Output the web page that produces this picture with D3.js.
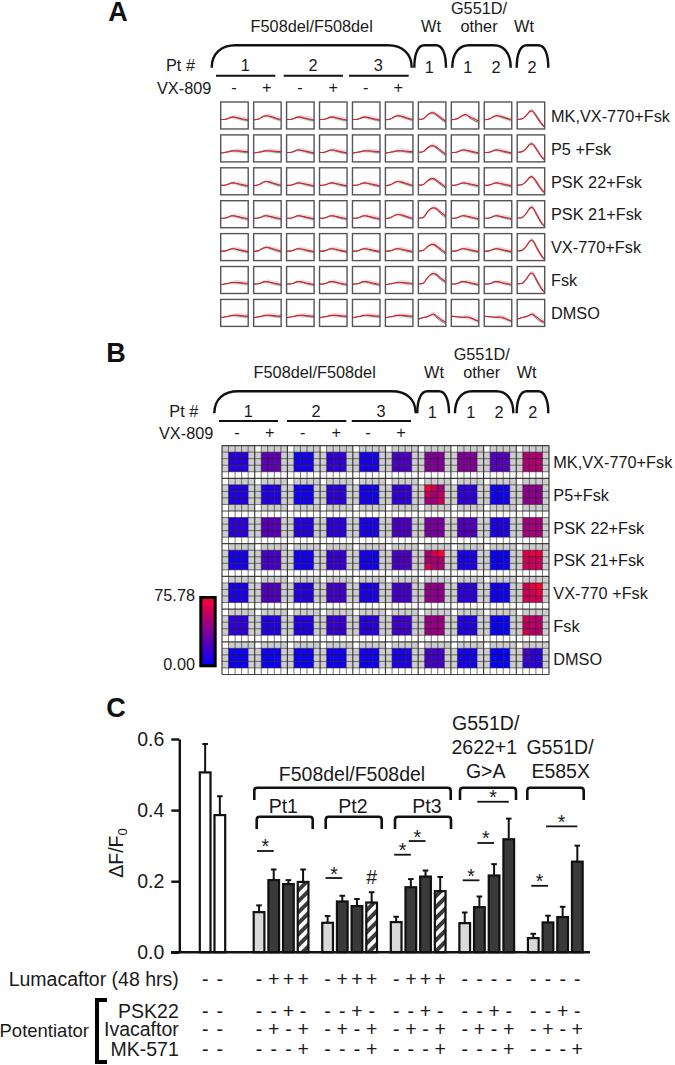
<!DOCTYPE html>
<meta charset="utf-8">
<style>
body { margin: 0; background: #fff; }
text { font-family: "Liberation Sans", Arial, sans-serif; fill: #1a1a1a; }
.big text, text.big { font-size: 19.5px; }
.lab { font-size: 16.3px; }
svg text.panel { font-size: 27px; font-weight: bold; fill: #111; }
</style>
<svg id="fig" width="675" height="1065"></svg>
<script src="https://d3js.org/d3.v7.min.js"></script>
<script>
// panel A + B shared
const columns = ["1-", "1+", "2-", "2+", "3-", "3+", "Wt1", "G1", "G2", "Wt2"];
const rowsA = ["MK,VX-770+Fsk", "P5 +Fsk", "PSK 22+Fsk", "PSK 21+Fsk", "VX-770+Fsk", "Fsk", "DMSO"];
const rowsB = ["MK,VX-770+Fsk", "P5+Fsk", "PSK 22+Fsk", "PSK 21+Fsk", "VX-770 +Fsk", "Fsk", "DMSO"];

// traces, fraction of box height
const traceRed = [
  [.33, .34, .36, .37, .40, .41, .41, .41, .40, .39, .38, .38],
  [.35, .35, .36, .39, .43, .44, .43, .41, .39, .37, .35, .33],
  [.34, .35, .37, .42, .47, .49, .48, .46, .43, .40, .37, .35],
  [.36, .36, .38, .46, .54, .59, .60, .56, .49, .42, .35, .28],
  [.36, .36, .38, .46, .58, .72, .76, .64, .46, .30, .15, .05],
  [.27, .30, .33, .35, .38, .42, .46, .40, .33, .26, .20, .16],
  [.37, .37, .36, .35, .34, .34, .35, .34, .31, .27, .23, .20],
  [.36, .36, .38, .44, .54, .65, .67, .58, .44, .30, .17, .08],
  [.36, .36, .38, .50, .62, .70, .74, .72, .65, .57, .50, .44],
  [.35, .35, .37, .41, .47, .52, .53, .47, .42, .38, .33, .30]
];
const traceDark = [
  [.33, .34, .36, .37, .40, .40, .40, .39, .37, .36, .35, .35],
  [.35, .35, .36, .39, .43, .44, .42, .39, .36, .34, .32, .30],
  [.34, .35, .37, .42, .47, .49, .47, .43, .40, .37, .34, .32],
  [.36, .36, .38, .46, .54, .59, .58, .52, .44, .37, .30, .24],
  [.36, .36, .38, .46, .58, .71, .74, .60, .42, .26, .12, .03],
  [.27, .30, .33, .35, .38, .42, .44, .36, .27, .20, .15, .11],
  [.37, .37, .36, .35, .34, .34, .34, .32, .29, .25, .21, .18],
  [.36, .36, .38, .44, .54, .64, .66, .55, .40, .26, .14, .06],
  [.36, .36, .38, .50, .62, .70, .73, .69, .60, .51, .44, .38],
  [.35, .35, .37, .41, .47, .52, .53, .44, .37, .32, .27, .24]
];
const traceSpread = [0, .01, .02, .03, .05, .07, .09, .09, .09, .09, .09, .09];
const traceIndex = [
  [1, 2, 1, 1, 1, 2, 3, 9, 2, 7],
  [0, 0, 1, 1, 0, 0, 3, 1, 1, 7],
  [1, 2, 1, 1, 1, 2, 3, 1, 1, 7],
  [1, 1, 1, 1, 1, 2, 8, 1, 1, 4],
  [1, 2, 1, 1, 1, 1, 3, 1, 1, 4],
  [0, 1, 1, 1, 1, 0, 8, 1, 1, 4],
  [0, 0, 0, 0, 0, 0, 5, 6, 6, 5]
];

// panel B heat values per well, 0 - 75.78
const heatValues = [
  [12, 28, 6, 15, 7, 22, 38, 38, 25, 52],
  [10, 10, 5, 13, 6, 15, 48, 14, 5, 42],
  [13, 26, 11, 13, 8, 22, 36, 24, 9, 48],
  [7, 21, 5, 16, 6, 22, 50, 8, 4, 60],
  [8, 24, 11, 20, 9, 20, 42, 13, 5, 62],
  [14, 10, 10, 16, 12, 18, 45, 10, 3, 55],
  [4, 4, 4, 5, 5, 8, 20, 6, 2, 13]
];
// wells with single hot spots: row, col, cell row, cell col, value
const heatSpots = [
  [1, 6, 0, 0, 72], [1, 6, 0, 1, 60], [1, 6, 1, 0, 58], [1, 6, 1, 2, 58], [1, 6, 2, 2, 62],
  [3, 6, 0, 1, 64], [3, 6, 0, 2, 74], [3, 6, 2, 0, 62],
  [3, 9, 0, 0, 66], [3, 9, 0, 1, 68], [3, 9, 0, 2, 68], [3, 9, 1, 0, 64],
  [4, 9, 0, 1, 70], [4, 9, 0, 2, 75], [4, 9, 1, 2, 70],
  [5, 9, 2, 0, 64], [5, 9, 0, 0, 62], [6, 9, 0, 0, 22], [6, 9, 1, 0, 20]
];
// 1 where the white band directly follows the well in that row
const whiteFirst = [1, 0, 1, 1, 1, 1, 1];

// panel C
const groups = ["ctrl", "Pt1", "Pt2", "Pt3", "G551D/2622+1", "G551D/E585X"];
const barMeans = [
  [.506, .386],
  [.113, .203, .192, .198],
  [.083, .143, .130, .140],
  [.085, .183, .213, .172],
  [.082, .127, .216, .318],
  [.040, .084, .099, .255]
];
const barTops = [
  [.586, .439],
  [.132, .233, .203, .233],
  [.102, .159, .150, .169],
  [.100, .206, .230, .212],
  [.112, .157, .248, .376],
  [.052, .103, .128, .300]
];
const barKinds = [
  ["open", "open"],
  ["light", "dark", "dark", "hatch"],
  ["light", "dark", "dark", "hatch"],
  ["light", "dark", "dark", "hatch"],
  ["light", "dark", "dark", "dark"],
  ["light", "dark", "dark", "dark"]
];
// group, first bar, last bar, height
const sigBars = [
  [1, 0, 1, .285], [2, 0, 1, .209], [3, 0, 1, .2745], [3, 1, 2, .313],
  [4, 0, 1, .2025], [4, 1, 2, .3075], [4, 1, 3, .4235],
  [5, 0, 1, .187], [5, 1, 3, .354]
];
const signRows = [
  ["Lumacaftor (48 hrs)", ["--", "-+++", "-+++", "-+++", "----", "----"]],
  ["PSK22", ["--", "--+-", "--+-", "--+-", "--+-", "--+-"]],
  ["Ivacaftor", ["--", "-+-+", "-+-+", "-+-+", "-+-+", "-+-+"]],
  ["MK-571", ["--", "---+", "---+", "---+", "---+", "---+"]]
];

const svg = d3.select("#fig");
const defs = svg.append("defs");

function label(g, x, y, s, cls, anchor) {
  return g.append("text").attr("x", x).attr("y", y).attr("class", cls || "lab")
    .attr("text-anchor", anchor || "middle").text(s);
}

function brace(g, x0, x1, yt, yb, r) {
  const p = d3.path();
  p.moveTo(x0, yb);
  p.bezierCurveTo(x0, yt + (yb - yt) * .35, x0 + r * .4, yt, x0 + r, yt);
  p.lineTo(x1 - r, yt);
  p.bezierCurveTo(x1 - r * .4, yt, x1, yt + (yb - yt) * .35, x1, yb);
  g.append("path").attr("d", p.toString()).attr("fill", "none").attr("stroke", "#111").attr("stroke-width", 2.4);
}

// the header is the same in A and B apart from where things sit
function header(g, o) {
  label(g, o.titleX, o.y1, "F508del/F508del");
  label(g, o.wt1X, o.y1, "Wt");
  label(g, o.gX, o.y1 - 18.3, "G551D/");
  label(g, o.gX, o.y1, "other");
  label(g, o.wt2X, o.y1, "Wt");
  o.braces.forEach(b => brace(g, b[0], b[1], o.yTop, o.yBot, b[2]));
  label(g, o.ptX, o.y2, "Pt #", "lab", "start");
  o.pts.forEach((p, i) => {
    label(g, p[0], o.y2, String(i + 1));
    g.append("line").attr("x1", p[1]).attr("x2", p[2]).attr("y1", o.yLine).attr("y2", o.yLine)
      .attr("stroke", "#111").attr("stroke-width", 2);
  });
  o.subs.forEach(s => label(g, s[0], o.y2 + 1.7, s[1]));
  label(g, o.vxX, o.y3, "VX-809", "lab", "end");
  o.signs.forEach((x, i) => label(g, x, o.y3 - 1, i % 2 ? "+" : "-"));
}

// ---- A
const gA = svg.append("g");
label(gA, 118, 21, "A", "panel");
header(gA, {
  titleX: 311.7, wt1X: 431, gX: 479, wt2X: 524, y1: 32.3, ptX: 166, y2: 71, yTop: 45.3, yBot: 67.7, yLine: 75.7,
  braces: [[211.7, 411.7, 24], [414.3, 446, 10], [452.3, 510.7, 17], [516.7, 548.3, 10]],
  pts: [[245.3, 216, 275.3], [313, 283.7, 343], [378.3, 349, 408.7]],
  subs: [[429.3, "1"], [467.7, "1"], [496, "2"], [532, "2"]],
  vxX: 211.3, y3: 93.7, signs: [234, 266.7, 300, 333.3, 365.7, 398.3]
});

const xA = d3.scaleBand().domain(columns).range([220.7, 544.7]).paddingInner(.165).paddingOuter(0);
const yA = d3.scaleBand().domain(rowsA).range([102, 326.4]).paddingInner(.18).paddingOuter(0);
const tx = d3.scaleLinear().domain([0, 11]).range([0, xA.bandwidth()]);
const ty = d3.scaleLinear().domain([0, 1]).range([yA.bandwidth(), 0]);
const curve = d3.curveCatmullRom;
const tLine = d3.line().x((d, i) => tx(i)).y(d => ty(d)).curve(curve);
const tArea = d3.area().x((d, i) => tx(i))
  .y0((d, i) => ty(d - traceSpread[i])).y1((d, i) => ty(d + traceSpread[i])).curve(curve);

rowsA.forEach((row, r) => {
  columns.forEach((col, c) => {
    const k = traceIndex[r][c];
    const g = gA.append("g").attr("transform", `translate(${xA(col)},${yA(row)})`);
    g.append("rect").attr("width", xA.bandwidth()).attr("height", yA.bandwidth())
      .attr("fill", "#fff");
    g.append("path").attr("d", tArea(traceRed[k])).attr("fill", "#e6dfe0");
    g.append("path").attr("d", tLine(traceDark[k])).attr("fill", "none").attr("stroke", "#777").attr("stroke-width", 1);
    g.append("path").attr("d", tLine(traceRed[k])).attr("fill", "none").attr("stroke", "#d8202c").attr("stroke-width", 1.1);
    g.append("rect").attr("width", xA.bandwidth()).attr("height", yA.bandwidth())
      .attr("fill", "none").attr("stroke", "#555").attr("stroke-width", 1.4);
  });
  label(gA, 551, yA(row) + 19.7, row, "lab", "start");
});

// ---- B
const gB = svg.append("g");
label(gB, 116, 362, "B", "panel");
header(gB, {
  titleX: 314.7, wt1X: 434, gX: 481.7, wt2X: 526.7, y1: 378.3, ptX: 169.3, y2: 416.7, yTop: 391.3, yBot: 413.3, yLine: 421,
  braces: [[214.3, 415.7, 24], [417.3, 449, 10], [455, 513.3, 17], [516.7, 548.3, 10]],
  pts: [[248.3, 219, 278], [316, 287, 346.3], [381, 351.7, 411]],
  subs: [[432.3, "1"], [470.7, "1"], [499, "2"], [532.7, "2"]],
  vxX: 213.3, y3: 439.3, signs: [237, 269.7, 302.7, 336.3, 368, 401]
});

const color = d3.scaleLinear().domain([0, 75.78]).range(["#0000ff", "#ff0030"]);
const ux = d3.scaleLinear().domain([0, 50]).range([222, 549]);
const uy = d3.scaleLinear().domain([0, 35]).range([445.6, 674.5]);
const gridW = ux(1) - ux(0), gridH = uy(1) - uy(0);

d3.range(35).forEach(v => {
  d3.range(50).forEach(u => {
    const cu = (u + 4) % 5, cv = (v + 4) % 5;
    const c = Math.floor((u - 1) / 5), r = Math.floor((v - 1) / 5);
    let fill = "#cdcdcd";
    if (cu < 3 && cv < 3) {
      const spot = heatSpots.find(s => s[0] === r && s[1] === c && s[2] === cv && s[3] === cu);
      fill = color(spot ? spot[4] : heatValues[r][c]);
    } else if (cv >= 3 && v > 0) {
      // two rows between wells: one grey, one white
      const white = whiteFirst[r] ? cv === 3 : cv === 4;
      if (white) fill = "#fff";
      else if (cu === 4) fill = "#fff";
    } else if (v === 0 && cu === 4 && u > 0) {
      fill = "#fff";
    }
    gB.append("rect").attr("x", ux(u)).attr("y", uy(v)).attr("width", gridW + .3).attr("height", gridH + .3).attr("fill", fill);
  });
});
d3.range(51).forEach(u => {
  const major = u % 5 === 0;
  gB.append("line").attr("x1", ux(u)).attr("x2", ux(u)).attr("y1", uy(0)).attr("y2", uy(35))
    .attr("stroke", "#222").attr("stroke-opacity", major ? .85 : .6).attr("stroke-width", major ? 1.2 : 1);
});
d3.range(36).forEach(v => {
  const major = v % 5 === 0;
  gB.append("line").attr("x1", ux(0)).attr("x2", ux(50)).attr("y1", uy(v)).attr("y2", uy(v))
    .attr("stroke", "#222").attr("stroke-opacity", major ? .85 : .6).attr("stroke-width", major ? 1.2 : 1);
});
rowsB.forEach((row, r) => label(gB, 553.3, 468.3 + r * 32.7, row, "lab", "start"));

// colour bar
const grad = defs.append("linearGradient").attr("id", "heat").attr("x1", 0).attr("x2", 0).attr("y1", 1).attr("y2", 0);
d3.range(0, 1.01, .25).forEach(t => grad.append("stop").attr("offset", t).attr("stop-color", color(t * 75.78)));
gB.append("rect").attr("x", 200.8).attr("y", 597.5).attr("width", 14.4).attr("height", 68.3)
  .attr("fill", "url(#heat)").attr("stroke", "#000").attr("stroke-width", 3);
label(gB, 195, 600.7, "75.78", "lab", "end");
label(gB, 195, 670, "0.00", "lab", "end");

// ---- C
const gC = svg.append("g").attr("class", "big");
label(gC, 116, 717, "C", "panel");

const xGroup = d3.scalePoint().domain(groups).range([212.5, 555.3]);
const y = d3.scaleLinear().domain([0, .6]).range([952.3, 739]);
const barPitch = 14.68, barW = 10.7;
function barX(g, i) {
  const n = barMeans[g].length;
  const inner = d3.scaleLinear().domain([0, n - 1]).range([-(n - 1) * barPitch / 2, (n - 1) * barPitch / 2]);
  return xGroup(groups[g]) + inner(i);
}

const hatch = defs.append("pattern").attr("id", "hatch").attr("width", 7.8).attr("height", 7.8)
  .attr("patternUnits", "userSpaceOnUse").attr("patternTransform", "rotate(-45)");
hatch.append("rect").attr("width", 7.8).attr("height", 7.8).attr("fill", "#3a3a3a");
hatch.append("rect").attr("width", 7.8).attr("height", 3.8).attr("fill", "#fff");

const barFill = { open: "#fff", light: "#d9d9d9", dark: "#3a3a3a", hatch: "url(#hatch)" };

barMeans.forEach((vals, g) => {
  vals.forEach((v, i) => {
    const cx = barX(g, i);
    gC.append("line").attr("x1", cx).attr("x2", cx).attr("y1", y(v)).attr("y2", y(barTops[g][i]))
      .attr("stroke", "#111").attr("stroke-width", 2);
    gC.append("line").attr("x1", cx - 2.8).attr("x2", cx + 2.8).attr("y1", y(barTops[g][i])).attr("y2", y(barTops[g][i]))
      .attr("stroke", "#111").attr("stroke-width", 2);
    gC.append("rect").attr("x", cx - barW / 2).attr("y", y(v)).attr("width", barW).attr("height", y(0) - y(v))
      .attr("fill", barFill[barKinds[g][i]]).attr("stroke", "#111").attr("stroke-width", 2.2);
  });
});

const axis = gC.append("g").attr("transform", "translate(179.3,0)")
  .call(d3.axisLeft(y).tickValues([0, .2, .4, .6]).tickFormat(d3.format(".1f")).tickSize(8).tickSizeOuter(0).tickPadding(7));
axis.selectAll("path, line").attr("stroke", "#111").attr("stroke-width", 2.4);
gC.append("line").attr("x1", 171).attr("x2", 590).attr("y1", y(0)).attr("y2", y(0)).attr("stroke", "#111").attr("stroke-width", 2.6);

const yt = gC.append("text").attr("transform", "translate(123,853) rotate(-90)").attr("text-anchor", "middle");
yt.append("tspan").text("\u0394F/F");
yt.append("tspan").style("font-size", "13px").attr("dy", 4).text("0");

function square(x0, x1, yt, yb) {
  const p = d3.path();
  p.moveTo(x0, yb);
  p.lineTo(x0, yt + 3);
  p.quadraticCurveTo(x0, yt, x0 + 3, yt);
  p.lineTo(x1 - 3, yt);
  p.quadraticCurveTo(x1, yt, x1, yt + 3);
  p.lineTo(x1, yb);
  gC.append("path").attr("d", p.toString()).attr("fill", "none").attr("stroke", "#111").attr("stroke-width", 2.6);
}
square(254.3, 450.7, 787.7, 800);
square(460, 516, 787.7, 800);
square(527.3, 583.7, 787.7, 800);
square(256.7, 312.7, 816.7, 829);
square(325.7, 381.7, 816.7, 829);
square(395, 451, 816.7, 829);

label(gC, 352, 780.7, "F508del/F508del", "big");
label(gC, 283.3, 812.7, "Pt1", "big");
label(gC, 353, 812.7, "Pt2", "big");
label(gC, 427, 812.7, "Pt3", "big");
label(gC, 485.7, 730, "G551D/", "big");
label(gC, 484.3, 754, "2622+1", "big");
label(gC, 485.7, 778.3, "G>A", "big");
label(gC, 560, 754, "G551D/", "big");
label(gC, 560.7, 778, "E585X", "big");

sigBars.forEach(s => {
  const x0 = barX(s[0], s[1]) - 2, x1 = barX(s[0], s[2]);
  gC.append("line").attr("x1", x0).attr("x2", x1).attr("y1", y(s[3])).attr("y2", y(s[3]))
    .attr("stroke", "#111").attr("stroke-width", 1.8);
  label(gC, (x0 + x1) / 2, y(s[3]) + 2.5, "*", "big");
});
label(gC, barX(2, 3), 884, "#", "big");

const signY = [985.7, 1017.7, 1036, 1055.5];
signRows.forEach((row, k) => {
  label(gC, 178.8, signY[k], row[0], "big", "end");
  row[1].forEach((s, g) => {
    s.split("").forEach((ch, i) => label(gC, barX(g, i), signY[k], ch, "big"));
  });
});
label(gC, 89, 1037, "Potentiator", "big", "end").style("font-size", "18.5px");
gC.append("path").attr("d", "M107,1000H97V1062H107").attr("fill", "none").attr("stroke", "#000").attr("stroke-width", 4);
</script>
